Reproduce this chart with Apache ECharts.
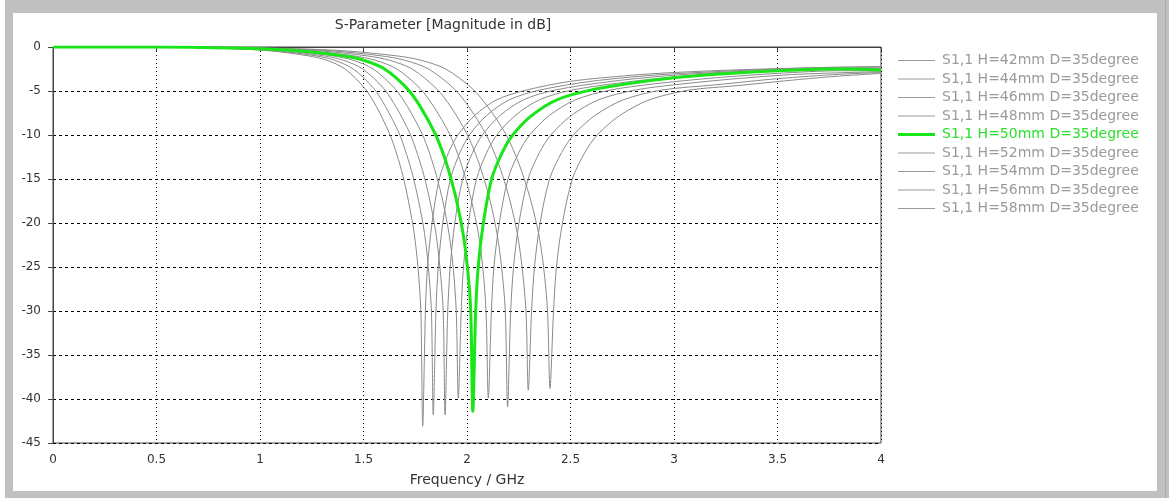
<!DOCTYPE html>
<html>
<head>
<meta charset="utf-8">
<script src="https://cdn.jsdelivr.net/npm/echarts@6/dist/echarts.min.js"></script>
<style>
  body { margin: 0; background: #fff; }
  #frame { position: absolute; left: 5px; top: 0; width: 1164px; height: 498px; background: #c0c0c0; }
  #edge { position: absolute; left: 1165px; top: 0; width: 1px; height: 498px; background: #a8a8a8; }
  #panel { position: absolute; left: 13px; top: 13px; width: 1144px; height: 478px; background: #fff; }
  #main { position: absolute; left: 0; top: 0; width: 1169px; height: 498px; }
</style>
</head>
<body>
<div id="frame"></div>
<div id="edge"></div>
<div id="panel"></div>
<div id="main"></div>
<script>
// legend names, top to bottom
var names = [
    'S1,1 H=42mm D=35degree', 'S1,1 H=44mm D=35degree', 'S1,1 H=46mm D=35degree',
    'S1,1 H=48mm D=35degree', 'S1,1 H=50mm D=35degree', 'S1,1 H=52mm D=35degree',
    'S1,1 H=54mm D=35degree', 'S1,1 H=56mm D=35degree', 'S1,1 H=58mm D=35degree'
];
var xTicks = [0, 0.5, 1, 1.5, 2, 2.5, 3, 3.5, 4];

// frequency (GHz) and magnitude (dB), one pair per curve
var f42 = [0, 0.600, 1.176, 1.417, 1.657, 1.777, 1.897, 2.024, 2.101, 2.185, 2.233, 2.271, 2.310, 2.346, 2.370, 2.389, 2.401, 2.418, 2.432, 2.461, 2.509, 2.569, 2.629, 2.737, 2.881, 3.073, 3.3, 3.6, 3.8, 4.0];
var db42 = [0, 0, -0.2, -0.45, -1.0, -1.5, -2.5, -4.7, -6.8, -9.8, -12.2, -14.6, -17.6, -21.2, -25, -30, -38.8, -30, -25, -20, -15, -12, -10, -7.8, -6.0, -4.9, -4.4, -3.7, -3.3, -3.0];

var f44 = [0, 0.574, 1.125, 1.355, 1.584, 1.699, 1.814, 1.936, 2.009, 2.089, 2.135, 2.172, 2.209, 2.243, 2.266, 2.285, 2.296, 2.312, 2.326, 2.353, 2.399, 2.457, 2.514, 2.617, 2.755, 2.939, 3.2, 3.5, 3.8, 4.0];
var db44 = [0, 0, -0.2, -0.45, -1.0, -1.5, -2.5, -4.7, -6.8, -9.8, -12.2, -14.6, -17.6, -21.2, -25, -30, -39.0, -30, -25, -20, -15, -12, -10, -7.8, -6.0, -4.9, -4.3, -3.6, -3.1, -2.9];

var f46 = [0, 0.549, 1.076, 1.296, 1.515, 1.625, 1.735, 1.851, 1.922, 1.998, 2.042, 2.077, 2.113, 2.145, 2.167, 2.185, 2.196, 2.211, 2.225, 2.251, 2.295, 2.350, 2.405, 2.503, 2.635, 2.811, 3.0, 3.3, 3.6, 4.0];
var db46 = [0, 0, -0.2, -0.45, -1.0, -1.5, -2.5, -4.7, -6.8, -9.8, -12.2, -14.6, -17.6, -21.2, -25, -30, -40.9, -30, -25, -20, -15, -12, -10, -7.8, -6.0, -4.9, -4.3, -3.6, -3.1, -2.8];

var f48 = [0, 0.526, 1.030, 1.241, 1.451, 1.556, 1.661, 1.773, 1.840, 1.914, 1.956, 1.989, 2.023, 2.055, 2.076, 2.092, 2.103, 2.118, 2.130, 2.156, 2.198, 2.250, 2.303, 2.397, 2.524, 2.692, 2.9, 3.2, 3.5, 3.8, 4.0];
var db48 = [0, 0, -0.2, -0.45, -1.0, -1.5, -2.5, -4.7, -6.8, -9.8, -12.2, -14.6, -17.6, -21.2, -25, -30, -39.9, -30, -25, -20, -15, -12, -10, -7.8, -6.0, -4.9, -4.2, -3.5, -3.0, -2.7, -2.7];

var f50 = [0, 0.507, 0.994, 1.197, 1.399, 1.501, 1.602, 1.710, 1.775, 1.845, 1.886, 1.918, 1.951, 1.981, 2.002, 2.018, 2.028, 2.042, 2.054, 2.079, 2.119, 2.170, 2.221, 2.312, 2.434, 2.596, 2.8, 3.0, 3.2, 3.4, 3.6, 3.8, 4.0];
var db50 = [0, 0, -0.2, -0.45, -1.0, -1.5, -2.5, -4.7, -6.8, -9.8, -12.2, -14.6, -17.6, -21.2, -25, -30, -41.4, -30, -25, -20, -15, -12, -10, -7.8, -6.0, -4.9, -4.1, -3.5, -3.1, -2.8, -2.6, -2.5, -2.6];

var f52 = [0, 0.490, 0.959, 1.155, 1.351, 1.449, 1.547, 1.651, 1.713, 1.782, 1.821, 1.852, 1.884, 1.913, 1.933, 1.948, 1.958, 1.972, 1.983, 2.007, 2.046, 2.095, 2.144, 2.232, 2.350, 2.506, 2.8, 3.1, 3.4, 3.7, 4.0];
var db52 = [0, 0, -0.2, -0.45, -1.0, -1.5, -2.5, -4.7, -6.8, -9.8, -12.2, -14.6, -17.6, -21.2, -25, -30, -39.9, -30, -25, -20, -15, -12, -10, -7.8, -6.0, -4.9, -3.9, -3.2, -2.8, -2.5, -2.5];

var f54 = [0, 0.474, 0.928, 1.117, 1.307, 1.402, 1.496, 1.597, 1.657, 1.724, 1.761, 1.792, 1.822, 1.850, 1.869, 1.885, 1.894, 1.907, 1.919, 1.941, 1.979, 2.027, 2.074, 2.159, 2.273, 2.424, 2.7, 3.0, 3.3, 3.6, 4.0];
var db54 = [0, 0, -0.2, -0.45, -1.0, -1.5, -2.5, -4.7, -6.8, -9.8, -12.2, -14.6, -17.6, -21.2, -25, -30, -41.8, -30, -25, -20, -15, -12, -10, -7.8, -6.0, -4.9, -3.9, -3.2, -2.8, -2.5, -2.4];

var f56 = [0, 0.459, 0.900, 1.084, 1.268, 1.359, 1.451, 1.549, 1.607, 1.672, 1.708, 1.738, 1.767, 1.795, 1.813, 1.828, 1.837, 1.850, 1.861, 1.883, 1.920, 1.966, 2.012, 2.094, 2.204, 2.351, 2.6, 2.9, 3.2, 3.5, 3.8, 4.0];
var db56 = [0, 0, -0.2, -0.45, -1.0, -1.5, -2.5, -4.7, -6.8, -9.8, -12.2, -14.6, -17.6, -21.2, -25, -30, -41.8, -30, -25, -20, -15, -12, -10, -7.8, -6.0, -4.9, -3.9, -3.2, -2.8, -2.5, -2.3, -2.3];

var f58 = [0, 0.45, 0.875, 1.054, 1.232, 1.322, 1.411, 1.506, 1.563, 1.625, 1.661, 1.690, 1.718, 1.745, 1.763, 1.777, 1.786, 1.799, 1.809, 1.831, 1.866, 1.911, 1.956, 2.036, 2.143, 2.286, 2.5, 2.8, 3.0, 3.3, 3.6, 4.0];
var db58 = [0, 0, -0.2, -0.45, -1.0, -1.5, -2.5, -4.7, -6.8, -9.8, -12.2, -14.6, -17.6, -21.2, -25, -30, -43.1, -30, -25, -20, -15, -12, -10, -7.8, -6.0, -4.9, -3.9, -3.2, -2.9, -2.6, -2.4, -2.2];

var freqs = [f42, f44, f46, f48, f50, f52, f54, f56, f58];
var mags = [db42, db44, db46, db48, db50, db52, db54, db56, db58];

var greyLine = '#8a8a8a';
var greenLine = '#19e619';

function pairs(f, d) {
    var out = [];
    for (var i = 0; i < f.length; i++) {
        out.push([f[i], d[i]]);
    }
    return out;
}

var myChart = echarts.init(document.getElementById('main'));

var series = [];
var legendData = [];
for (var i = 0; i < names.length; i++) {
    var isGreen = (i === 4);
    series.push({
        name: names[i],
        type: 'line',
        data: pairs(freqs[i], mags[i]),
        showSymbol: false,
        symbol: 'none',
        smooth: 0.3,
        z: isGreen ? 5 : 2,
        lineStyle: {
            color: isGreen ? greenLine : greyLine,
            width: isGreen ? 3 : 1
        },
        itemStyle: { color: isGreen ? greenLine : greyLine },
        emphasis: { disabled: true },
        animation: false
    });
    // plain line as legend mark, thicker for the green one
    legendData.push({
        name: names[i],
        icon: isGreen ? 'path://M0,0 H37 V3 H0 Z' : 'path://M0,0 H37 V1 H0 Z',
        itemStyle: { color: isGreen ? greenLine : '#9a9a9a' },
        textStyle: { color: isGreen ? '#2ee02e' : '#9a9a9a' }
    });
}

var axisFont = { fontFamily: 'DejaVu Sans', fontSize: 12, color: '#333' };

var option = {
    animation: false,
    title: {
        text: 'S-Parameter [Magnitude in dB]',
        left: 438,
        top: 13,
        textAlign: 'center',
        textStyle: { fontFamily: 'DejaVu Sans', fontSize: 14, fontWeight: 'normal', color: '#333' }
    },
    legend: {
        orient: 'vertical',
        left: 898,
        top: 53.5,
        itemWidth: 37,
        itemHeight: 12,
        itemGap: 4.5,
        padding: 0,
        symbolKeepAspect: true,
        selectedMode: false,
        data: legendData,
        textStyle: { fontFamily: 'DejaVu Sans', fontSize: 14, lineHeight: 13, padding: [0, 0, 0, 2] }
    },
    grid: {
        left: 53,
        right: 288,
        top: 47,
        bottom: 55,
        show: true,
        backgroundColor: 'transparent',
        borderColor: '#444',
        borderWidth: 1
    },
    xAxis: {
        type: 'value',
        min: 0,
        max: 4,
        interval: 0.5,
        name: 'Frequency / GHz',
        nameLocation: 'middle',
        nameGap: 30,
        nameTextStyle: { fontFamily: 'DejaVu Sans', fontSize: 14, color: '#333' },
        axisLine: { lineStyle: { color: '#444' } },
        axisTick: { show: true, length: 4, lineStyle: { color: '#444' } },
        axisLabel: Object.assign({ margin: 11, formatter: function(v) { return xTicks.indexOf(v) >= 0 ? String(v) : ''; } }, axisFont),
        splitLine: { show: true, lineStyle: { color: '#000', type: [1, 3], width: 1 } }
    },
    yAxis: {
        type: 'value',
        min: -45,
        max: 0,
        interval: 5,
        axisLine: { show: true, lineStyle: { color: '#444' } },
        axisTick: { show: true, length: 5, lineStyle: { color: '#444' } },
        axisLabel: Object.assign({ margin: 12 }, axisFont),
        splitLine: { show: true, lineStyle: { color: '#000', type: [3, 3], width: 1 } }
    },
    series: series
};

myChart.setOption(option);
</script>
</body>
</html>
